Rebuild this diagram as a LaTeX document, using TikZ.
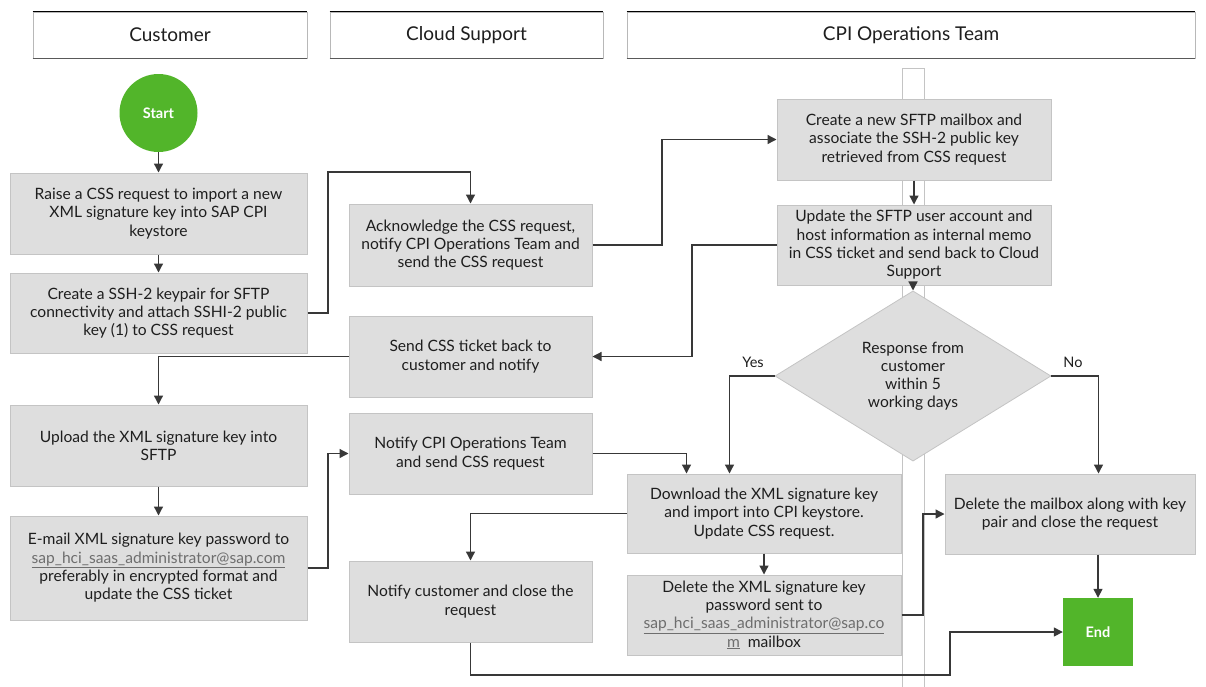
\documentclass[tikz,border=0pt]{standalone}
\usepackage{fontspec}
\setmainfont{Lato}
\usetikzlibrary{arrows.meta,shapes.geometric,calc}
\definecolor{boxfill}{HTML}{DEDEDE}
\definecolor{boxline}{HTML}{C4C4C4}
\definecolor{lineclr}{HTML}{383838}
\definecolor{sapgreen}{HTML}{52B52A}
\definecolor{txt}{HTML}{1E1E1E}
\definecolor{mailclr}{HTML}{6E6E6E}
\definecolor{hdrline}{HTML}{B8B8B8}
\newcommand{\mailaddr}[1]{{\color{mailclr}\underline{#1}}}
\begin{document}
\begin{tikzpicture}[x=1pt,y=-1pt,
  proc/.style={rectangle, draw=boxline, fill=boxfill, line width=1pt, align=center,
    inner sep=2pt, text=txt, font=\fontsize{15.6}{18.3}\selectfont},
  decision/.style={diamond, draw=boxline, fill=boxfill, line width=0.8pt, align=center,
    inner sep=0pt, text=txt, font=\fontsize{15.6}{18}\selectfont},
  header/.style={rectangle, draw=hdrline, fill=white, line width=0.6pt,
    text=txt, font=\fontsize{19}{22}\selectfont, minimum height=46},
  terminal/.style={fill=sapgreen, text=white, inner sep=0pt,
    font=\fontsize{14.5}{16}\selectfont\bfseries},
  conn/.style={draw=lineclr, line width=1.3pt, -{Triangle[length=9pt,width=9pt]}},
  lbl/.style={text=txt, font=\fontsize{14.5}{16}\selectfont, inner sep=0pt}
]
\useasboundingbox (0,0) rectangle (1206,686);
\fill[white] (0,0) rectangle (1206,686);

% swimlane channel
\draw[draw=boxline, fill=white, line width=1pt] (902,68) rectangle (924,700);

% headers
\node[header, minimum width=274] (hcust) at (170,35) {Customer};
\node[header, minimum width=273] (hcloud) at (466.5,35) {Cloud Support};
\node[header, minimum width=568] (hcpi) at (911,35) {CPI Operations Team};
\foreach \h in {hcust,hcloud,hcpi}{
  \draw[black, line width=1pt] (\h.north west) -- (\h.north east);
  \draw[black!65, line width=1.6pt] (\h.south west) -- (\h.south east);
}

% customer lane
\node[terminal, circle, minimum size=78] (start) at (158.5,113) {Start};
\node[proc, minimum width=297, minimum height=81] (c1) at (158.5,213.5)
  {Raise a CSS request to import a new\\XML signature key into SAP CPI\\keystore};
\node[proc, minimum width=297, minimum height=80] (c2) at (158.5,313)
  {Create a SSH-2 keypair for SFTP\\connectivity and attach SSHI-2 public\\key (1) to CSS request};
\node[proc, minimum width=297, minimum height=81] (c3) at (158.5,445.5)
  {Upload the XML signature key into\\SFTP};
\node[proc, minimum width=297, minimum height=104] (c4) at (158.5,568)
  {E-mail XML signature key password to\\\mailaddr{sap\_hci\_saas\_administrator@sap.com}\\preferably in encrypted format and\\update the CSS ticket};

% cloud support lane
\node[proc, minimum width=243, minimum height=82] (s1) at (470.5,245)
  {Acknowledge the CSS request,\\notify CPI Operations Team and\\send the CSS request};
\node[proc, minimum width=243, minimum height=81] (s2) at (470.5,356.5)
  {Send CSS ticket back to\\customer and notify};
\node[proc, minimum width=243, minimum height=81] (s3) at (470.5,453.5)
  {Notify CPI Operations Team\\and send CSS request};
\node[proc, minimum width=243, minimum height=81] (s4) at (470.5,601.5)
  {Notify customer and close the\\request};

% CPI operations lane
\node[proc, minimum width=274, minimum height=81] (o1) at (914,139.5)
  {Create a new SFTP mailbox and\\associate the SSH-2 public key\\retrieved from CSS request};
\node[proc, minimum width=274, minimum height=80] (o2) at (914,245)
  {Update the SFTP user account and\\host information as internal memo\\in CSS ticket and send back to Cloud\\Support};
\node[decision, minimum width=276, minimum height=137] (dia) at (913,376)
  {Response from\\customer\\within 5\\working days};
\node[proc, minimum width=274, minimum height=79] (o3) at (764,513.5)
  {Download the XML signature key\\and import into CPI keystore.\\Update CSS request.};
\node[proc, minimum width=274, minimum height=80] (o4) at (764,615)
  {Delete the XML signature key\\password sent to\\\mailaddr{sap\_hci\_saas\_administrator@sap.co}\\\mailaddr{m}\enspace mailbox};
\node[proc, minimum width=250, minimum height=80] (o5) at (1070,514)
  {Delete the mailbox along with key\\pair and close the request};
\node[terminal, rectangle, minimum width=70, minimum height=68] (end) at (1098,632) {End};

\node[lbl] (yes) at (753,362) {Yes};
\node[lbl] (no) at (1073,362) {No};

% connectors
\draw[conn] (start) -- (c1);
\draw[conn] (c1) -- (c2);
\draw[conn] (c2.east) -- (328,313) |- (400,172) -| (s1.north);
\draw[conn] (s1.east) -- (662,245) |- (o1.west);
\draw[conn] (o1) -- (o2);
\draw[conn] (o2.west) -- (692,245) |- (s2.east);
\draw[conn] (o2.south -| dia.north) -- (dia.north);
\draw[conn] (s2.west) -| (c3.north);
\draw[conn] (c3) -- (c4);
\draw[conn] (c4.east) -- (328,568) |- (s3.west);
\draw[conn] (s3.east) -| ([xshift=60pt]o3.north west);
\draw[conn] (dia.west) -| ([xshift=103pt]o3.north west);
\draw[conn] (dia.east) -| ([xshift=154pt]o5.north west);
\draw[conn] (o3.west) -| (s4.north);
\draw[conn] (o3) -- (o4);
\draw[conn] (o4.east) -- (923,615) |- (o5.west);
\draw[conn] (end.north |- o5.south) -- (end.north);
\draw[conn] (s4.south) -- (470.5,675) -| (950,632) -- (end.west);
\end{tikzpicture}
\end{document}
